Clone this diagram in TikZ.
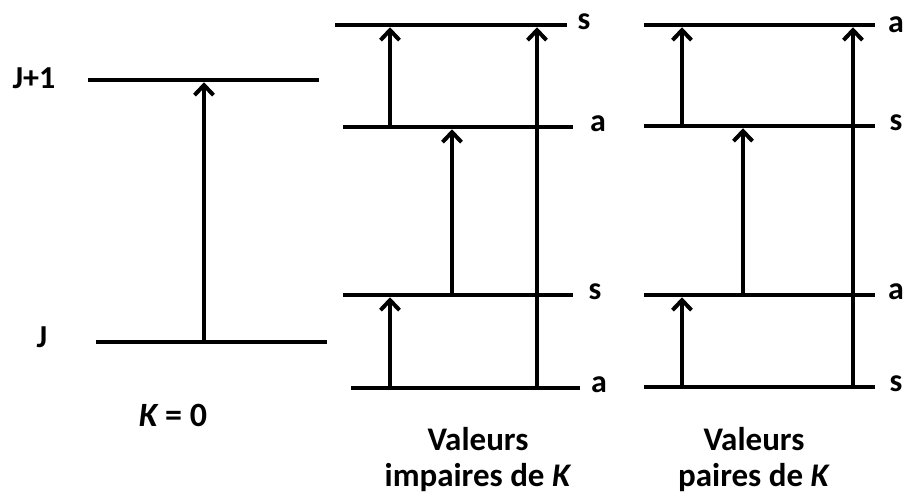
\documentclass[tikz,border=0pt]{standalone}
\usepackage{fontspec}
\setmainfont{Carlito}
\usetikzlibrary{arrows.meta}

\begin{document}
\begin{tikzpicture}[x=1pt, y=-1pt,
    level/.style={fill=black, minimum height=4.5pt, inner sep=0pt, outer sep=0pt},
    trans/.style={-{Straight Barb[length=10pt, width=19pt]}, line width=4pt},
    sym/.style={font=\fontsize{32}{34}\selectfont\bfseries, inner sep=0pt},
    caption/.style={font=\fontsize{33}{36}\selectfont\bfseries, align=center, inner sep=0pt},
]
  \useasboundingbox (0,0) rectangle (904,494);

  % Left: K = 0
  \node[level, minimum width=231pt] (j1) at (203.5,80) {};
  \node[level, minimum width=231pt] (j0) at (211.5,342) {};
  \node[sym] (lj1) at (34,78) {J+1};
  \node[sym] (lj0) at (42,337) {J};
  \coordinate (xk) at (204,0);
  \draw[trans] (j0.center -| xk) -- (j1.south -| xk);
  \node[font=\fontsize{34}{36}\selectfont\bfseries] (k0) at (173,415) {\itshape K\upshape{} = 0};

  % Middle: odd K
  \node[level, minimum width=232pt] (m3) at (451,25) {};
  \node[level, minimum width=230pt] (m2) at (458,127) {};
  \node[level, minimum width=230pt] (m1) at (458,295) {};
  \node[level, minimum width=229pt] (m0) at (465.5,388) {};
  \node[sym] (lm3) at (584,22) {s};
  \node[sym] (lm2) at (598,124) {a};
  \node[sym] (lm1) at (595,292) {s};
  \node[sym] (lm0) at (599,385) {a};
  \coordinate (ma) at (390,0);
  \coordinate (mb) at (452,0);
  \coordinate (mc) at (537,0);
  \draw[trans] (m0.center -| ma) -- (m1.south -| ma);
  \draw[trans] (m2.center -| ma) -- (m3.south -| ma);
  \draw[trans] (m1.center -| mb) -- (m2.south -| mb);
  \draw[trans] (m0.center -| mc) -- (m3.south -| mc);
  \node[caption] (cm) at (478,460) {Valeurs\\impaires de \textit{K}};

  % Right: even K
  \node[level, minimum width=231pt] (p3) at (759.5,25) {};
  \node[level, minimum width=231pt] (p2) at (759.5,126) {};
  \node[level, minimum width=231pt] (p1) at (759.5,295) {};
  \node[level, minimum width=231pt] (p0) at (759.5,387) {};
  \node[sym] (lp3) at (896,25) {a};
  \node[sym] (lp2) at (896,123) {s};
  \node[sym] (lp1) at (896,292) {a};
  \node[sym] (lp0) at (896,384) {s};
  \coordinate (pa) at (682,0);
  \coordinate (pb) at (743,0);
  \coordinate (pc) at (853,0);
  \draw[trans] (p0.center -| pa) -- (p1.south -| pa);
  \draw[trans] (p2.center -| pa) -- (p3.south -| pa);
  \draw[trans] (p1.center -| pb) -- (p2.south -| pb);
  \draw[trans] (p0.center -| pc) -- (p3.south -| pc);
  \node[caption] (cp) at (754,460) {Valeurs\\paires de \textit{K}};
\end{tikzpicture}
\end{document}
